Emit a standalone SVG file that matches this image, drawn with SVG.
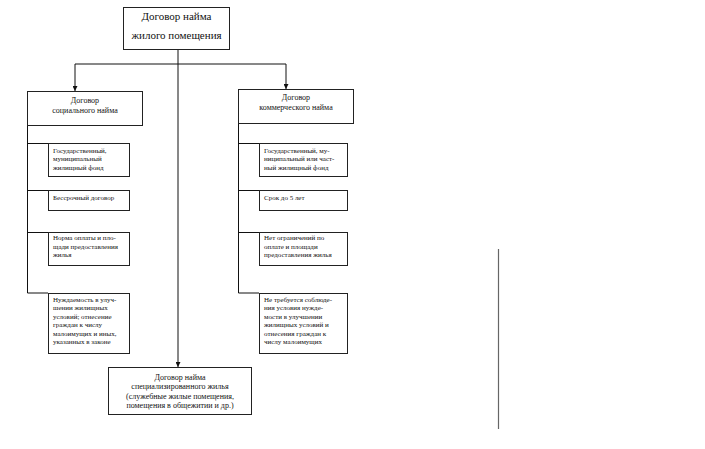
<svg xmlns="http://www.w3.org/2000/svg" width="705" height="449" viewBox="0 0 705 449">
<style>
.box{fill:#fff;stroke:#222;stroke-width:1}
.ln{fill:none;stroke:#111;stroke-width:1}
.tx{fill:#111}
.t11{font-size:11px;text-anchor:middle}
.t8{font-size:8px;text-anchor:middle}
.t7{font-size:7px}
</style>
<defs>
<marker id="ar" viewBox="0 0 6 6" refX="6" refY="3" markerWidth="5" markerHeight="5" orient="auto" markerUnits="userSpaceOnUse">
<path d="M0,0 L6,3 L0,6 Z" fill="#111"/>
</marker>
</defs>
<rect width="705" height="449" fill="#fff"/>
<g id="connectors">
<path class="ln" d="M178,49 V367" marker-end="url(#ar)"/>
<path class="ln" d="M75,64 H286"/>
<path class="ln" d="M75,64 V91" marker-end="url(#ar)"/>
<path class="ln" d="M286,64 V89" marker-end="url(#ar)"/>
<path class="ln" d="M27.5,125 V293 H48 M27.5,143.5 H48 M27.5,190.5 H48 M27.5,232.5 H48"/>
<path class="ln" d="M238.5,123 V293 H259 M238.5,143.5 H259 M238.5,190.5 H259 M238.5,232.5 H259"/>
</g>
<g class="tx" font-family="'Liberation Serif', 'Times New Roman', 'DejaVu Serif', serif">
<g id="root">
<rect class="box" x="123.5" y="7.5" width="106" height="42"/>
<text class="t11" x="176.5" y="20">Договор найма</text>
<text class="t11" x="176.5" y="39">жилого помещения</text>
</g>
<g id="social">
<rect class="box" x="27.5" y="91.5" width="115" height="34"/>
<text class="t8" x="85" y="102.5">Договор</text>
<text class="t8" x="85" y="112.5">социального найма</text>
</g>
<g id="commercial">
<rect class="box" x="238.5" y="89.5" width="115" height="34"/>
<text class="t8" x="296" y="99.5">Договор</text>
<text class="t8" x="296" y="109.5">коммерческого найма</text>
</g>
<g id="s1">
<rect class="box" x="48.5" y="143.5" width="81" height="33"/>
<text class="t7" x="53" y="152.5">Государственный,</text>
<text class="t7" x="53" y="161">муниципальный</text>
<text class="t7" x="53" y="169.5">жилищный фонд</text>
</g>
<g id="s2">
<rect class="box" x="48.5" y="190.5" width="81" height="20"/>
<text class="t7" x="53" y="200">Бессрочный договор</text>
</g>
<g id="s3">
<rect class="box" x="48.5" y="232.5" width="81" height="33"/>
<text class="t7" x="53" y="240">Норма оплаты и пло-</text>
<text class="t7" x="53" y="248.5">щади предоставления</text>
<text class="t7" x="53" y="257">жилья</text>
</g>
<g id="s4">
<rect class="box" x="48.5" y="293.5" width="81" height="60"/>
<text class="t7" x="53" y="301.5">Нуждаемость в улуч-</text>
<text class="t7" x="53" y="310">шении жилищных</text>
<text class="t7" x="53" y="318.5">условий; отнесение</text>
<text class="t7" x="53" y="327">граждан к числу</text>
<text class="t7" x="53" y="335.5">малоимущих и иных,</text>
<text class="t7" x="53" y="344">указанных в законе</text>
</g>
<g id="c1">
<rect class="box" x="259.5" y="143.5" width="88" height="33"/>
<text class="t7" x="264" y="152.5">Государственный, му-</text>
<text class="t7" x="264" y="161">ниципальный или част-</text>
<text class="t7" x="264" y="169.5">ный жилищный фонд</text>
</g>
<g id="c2">
<rect class="box" x="259.5" y="190.5" width="88" height="20"/>
<text class="t7" x="264" y="200">Срок до 5 лет</text>
</g>
<g id="c3">
<rect class="box" x="259.5" y="232.5" width="88" height="33"/>
<text class="t7" x="264" y="240">Нет ограничений по</text>
<text class="t7" x="264" y="248.5">оплате и площади</text>
<text class="t7" x="264" y="257">предоставления жилья</text>
</g>
<g id="c4">
<rect class="box" x="259.5" y="293.5" width="88" height="60"/>
<text class="t7" x="264" y="301.5">Не требуется соблюде-</text>
<text class="t7" x="264" y="310">ния условия нужде-</text>
<text class="t7" x="264" y="318.5">мости в улучшении</text>
<text class="t7" x="264" y="327">жилищных условий и</text>
<text class="t7" x="264" y="335.5">отнесения граждан к</text>
<text class="t7" x="264" y="344">числу малоимущих</text>
</g>
<g id="special">
<rect class="box" x="108.5" y="367.5" width="143" height="47"/>
<text class="t8" x="180" y="380">Договор найма</text>
<text class="t8" x="180" y="389">специализированного жилья</text>
<text class="t8" x="180" y="398.5">(служебные жилые помещения,</text>
<text class="t8" x="180" y="408">помещения в общежитии и др.)</text>
</g>
</g>
<path d="M498.5,249 V429" stroke="#666" stroke-width="1.2" fill="none"/>
</svg>
